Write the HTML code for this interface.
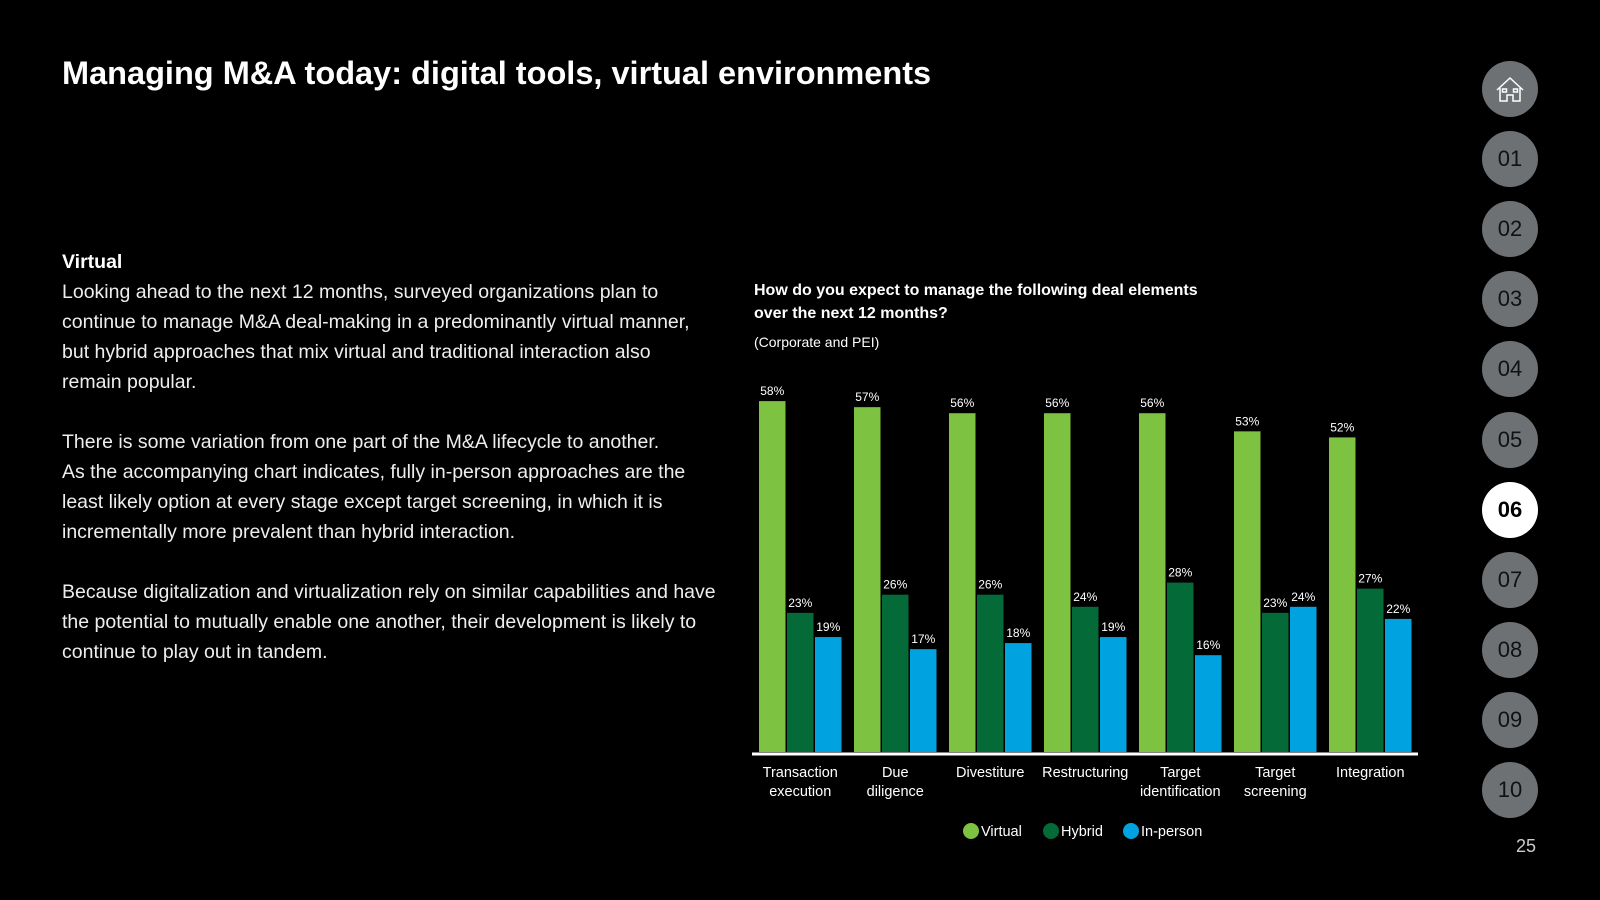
<!DOCTYPE html>
<html><head><meta charset="utf-8"><style>
body{margin:0;width:1600px;height:900px;background:#000;overflow:hidden;font-family:"Liberation Sans",sans-serif;color:#fff;position:relative}
.t{position:absolute;left:62px;top:55px;font-size:32.5px;font-weight:bold;margin:0}
.body{position:absolute;left:62px;top:247px;font-size:19.5px;line-height:30px;font-weight:300;color:#eee;white-space:nowrap}
.body p{margin:0 0 30px 0}
.nav{position:absolute;left:1482px;width:56px;height:56px;border-radius:50%;background:#6e7174;color:#111;font-size:22px;display:flex;align-items:center;justify-content:center}
</style></head><body>
<h1 class="t">Managing M&amp;A today: digital tools, virtual environments</h1>
<div class="body">
<div style="font-weight:bold;color:#fff">Virtual</div>
<p>Looking ahead to the next 12 months, surveyed organizations plan to<br>continue to manage M&amp;A deal-making in a predominantly virtual manner,<br>but hybrid approaches that mix virtual and traditional interaction also<br>remain popular.</p>
<p>There is some variation from one part of the M&amp;A lifecycle to another.<br>As the accompanying chart indicates, fully in-person approaches are the<br>least likely option at every stage except target screening, in which it is<br>incrementally more prevalent than hybrid interaction.</p>
<p>Because digitalization and virtualization rely on similar capabilities and have<br>the potential to mutually enable one another, their development is likely to<br>continue to play out in tandem.</p>
</div>
<div id="nav"></div>
<div style="position:absolute;left:1516px;top:836px;font-size:18px;color:#ccc">25</div>
<svg id="chart" width="1600" height="900" style="position:absolute;left:0;top:0">
<text x="754" y="295" font-size="16" font-weight="bold" fill="#fff">How do you expect to manage the following deal elements</text>
<text x="754" y="318" font-size="16" font-weight="bold" fill="#fff">over the next 12 months?</text>
<text x="754" y="347" font-size="14" fill="#fff">(Corporate and PEI)</text>
<g id="marks"></g>
<line x1="752" y1="754" x2="1418" y2="754" stroke="#fff" stroke-width="3"/>
<g fill="none" stroke="#fff" stroke-width="1.5">
<path d="M1497 90 L1510 78 L1523 90 M1500 88 V101 H1507 V95 H1513 V101 H1520 V88"/>
<rect x="1502.5" y="89" width="4" height="3"/><rect x="1513.5" y="89" width="4" height="3"/>
</g>
</svg>
<script>
const categories=[["Transaction","execution"],["Due","diligence"],["Divestiture"],["Restructuring"],["Target","identification"],["Target","screening"],["Integration"]];
const virtualVals=[58,57,56,56,56,53,52];
const hybridVals=[23,26,26,24,28,23,27];
const inPersonVals=[19,17,18,19,16,24,22];
const seriesNames=["Virtual","Hybrid","In-person"];
const colors=["#7dc241","#046a38","#00a3e0"];
const ns="http://www.w3.org/2000/svg";
const g=document.getElementById('marks');
const base=752,pitch=95,x0=759,bw=26.5,gap=1.5,ppp=6.05;
function xPos(i,s){return x0+i*pitch+s*(bw+gap);}
function yPos(v){return base-v*ppp;}
function mk(t,a){const e=document.createElementNS(ns,t);for(const k in a)e.setAttribute(k,a[k]);g.appendChild(e);return e;}
const series=[virtualVals,hybridVals,inPersonVals];
series.forEach((vals,s)=>{vals.forEach((v,i)=>{
 const r=mk('rect',{x:xPos(i,s),y:yPos(v),width:bw,height:base-yPos(v),fill:colors[s]});
 
 
 const t=mk('text',{x:xPos(i,s)+bw/2,y:yPos(v)-6,'font-size':12,fill:'#fff','text-anchor':'middle'});
 t.textContent=v+'%';
 
 
});});
categories.forEach((c,i)=>{c.forEach((line,j)=>{
 const t=mk('text',{x:xPos(i,1)+bw/2,y:777+j*19,'font-size':14.5,fill:'#fff','text-anchor':'middle'});
 t.textContent=line;
 
 
});});
const lx=[971,1051,1131];
seriesNames.forEach((n,s)=>{
 const c=mk('circle',{cx:lx[s],cy:831,r:8,fill:colors[s]});
 
 
 const t=mk('text',{x:lx[s]+10,y:836,'font-size':14.5,fill:'#fff'});
 t.textContent=n;
 
 
});
const nav=document.getElementById('nav');
const labels=["","01","02","03","04","05","06","07","08","09","10"];
labels.forEach((l,i)=>{
 const d=document.createElement('div');
 d.className='nav';
 d.style.top=(61+i*70.1)+'px';
 d.textContent=l;
 if(l==="06"){d.style.background='#fff';d.style.color='#000';d.style.fontWeight='bold';}
 
 
 nav.appendChild(d);
});
</script>
</body></html>
